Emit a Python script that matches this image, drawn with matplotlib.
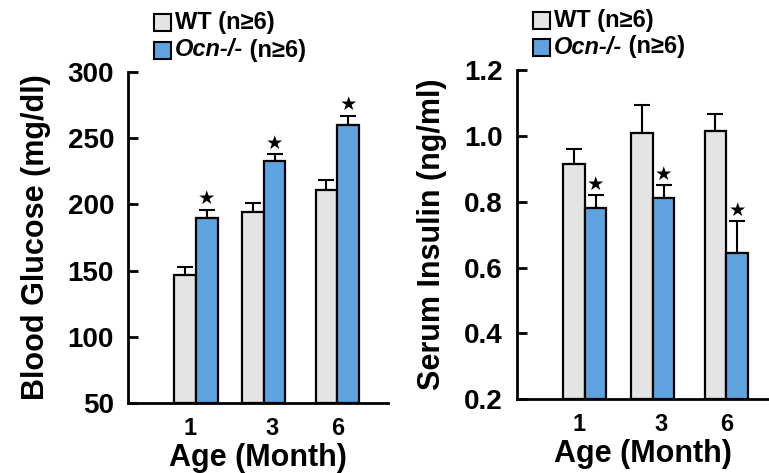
import matplotlib.pyplot as plt
from matplotlib.patches import Rectangle

plt.rcParams['font.family'] = ['Liberation Sans', 'DejaVu Sans']
plt.rcParams['font.weight'] = 'bold'

ages = ['1', '3', '6']
glucose_wt = [147, 194, 211]
glucose_wt_err = [6, 7, 7]
glucose_ko = [190, 233, 260]
glucose_ko_err = [6, 5, 7]
insulin_wt = [0.915, 1.01, 1.015]
insulin_wt_err = [0.045, 0.085, 0.05]
insulin_ko = [0.78, 0.812, 0.645]
insulin_ko_err = [0.04, 0.038, 0.095]

gray = '#e4e4e4'
blue = '#5ea2e0'
pos = [0.97, 1.94, 2.99]
label_pos = [0.89, 2.06, 2.99]
w = 0.31

fig = plt.figure(figsize=(7.69, 4.73), dpi=100)
ax1 = fig.add_axes([0.1664, 0.148, 0.338, 0.700])
ax2 = fig.add_axes([0.672, 0.156, 0.328, 0.696])


def draw(ax, wt, wt_err, ko, ko_err, ylim, yticks, fmt, ylabel, star_off):
    xs_wt = [p - w / 2 for p in pos]
    xs_ko = [p + w / 2 for p in pos]
    ax.bar(xs_wt, [v - ylim[0] for v in wt], bottom=ylim[0], width=w, color=gray,
           edgecolor='black', linewidth=1.6, zorder=3)
    ax.bar(xs_ko, [v - ylim[0] for v in ko], bottom=ylim[0], width=w, color=blue,
           edgecolor='black', linewidth=1.6, zorder=3)
    ax.errorbar(xs_wt, wt, yerr=[[0] * 3, wt_err], fmt='none', ecolor='black',
                elinewidth=1.5, capsize=6, capthick=1.5, zorder=2)
    ax.errorbar(xs_ko, ko, yerr=[[0] * 3, ko_err], fmt='none', ecolor='black',
                elinewidth=1.5, capsize=6, capthick=1.5, zorder=2)
    for x, v, e in zip(xs_ko, ko, ko_err):
        ax.text(x, v + e + star_off, '\u2605', ha='center', va='bottom',
                fontsize=14, family='DejaVu Sans', color='black')
    ax.set_ylim(ylim)
    ax.set_yticks(yticks)
    ax.set_yticklabels([fmt.format(t) for t in yticks], fontsize=20, fontweight='bold')
    ax.set_xticks(label_pos)
    ax.set_xticklabels(ages, fontsize=17, fontweight='bold')
    ax.tick_params(axis='x', length=0, pad=10)
    ax.tick_params(axis='y', direction='in', length=7, width=2, pad=10)
    for s in ['top', 'right']:
        ax.spines[s].set_visible(False)
    for s in ['left', 'bottom']:
        ax.spines[s].set_linewidth(2)
    ax.set_xlabel('Age (Month)', fontsize=22, fontweight='bold', labelpad=2)
    ax.set_ylabel(ylabel, fontsize=22, fontweight='bold', labelpad=12)


draw(ax1, glucose_wt, glucose_wt_err, glucose_ko, glucose_ko_err,
     (50, 300), [50, 100, 150, 200, 250, 300], '{:.0f}', 'Blood Glucose (mg/dl)', 1)
ax1.set_xlim(0, 3.714)
draw(ax2, insulin_wt, insulin_wt_err, insulin_ko, insulin_ko_err,
     (0.2, 1.2), [0.2, 0.4, 0.6, 0.8, 1.0, 1.2], '{:.1f}', 'Serum Insulin (ng/ml)', 0.004)
ax2.set_xlim(0, 3.6)


def legend(ax, x, y1, y2):
    for y, c in [(y1, gray), (y2, blue)]:
        fig.patches.append(Rectangle((x / 769, 1 - (y + 9) / 473), 17 / 769, 17 / 473,
                                     transform=fig.transFigure, facecolor=c,
                                     edgecolor='black', linewidth=1.5))
    fig.text((x + 21) / 769, 1 - y1 / 473, 'WT (n\u22656)', fontsize=17,
             fontweight='bold', va='center', ha='left')
    t = fig.text((x + 21) / 769, 1 - y2 / 473, 'Ocn-/-', fontsize=17,
                 fontweight='bold', style='italic', va='center', ha='left')
    ax.annotate(' (n\u22656)', xy=(1, 0.5), xycoords=t, fontsize=17,
                fontweight='bold', va='center', ha='left', annotation_clip=False)


legend(ax1, 154, 22, 50)
legend(ax2, 533, 20, 47)

fig.savefig('out.png', dpi=100)
